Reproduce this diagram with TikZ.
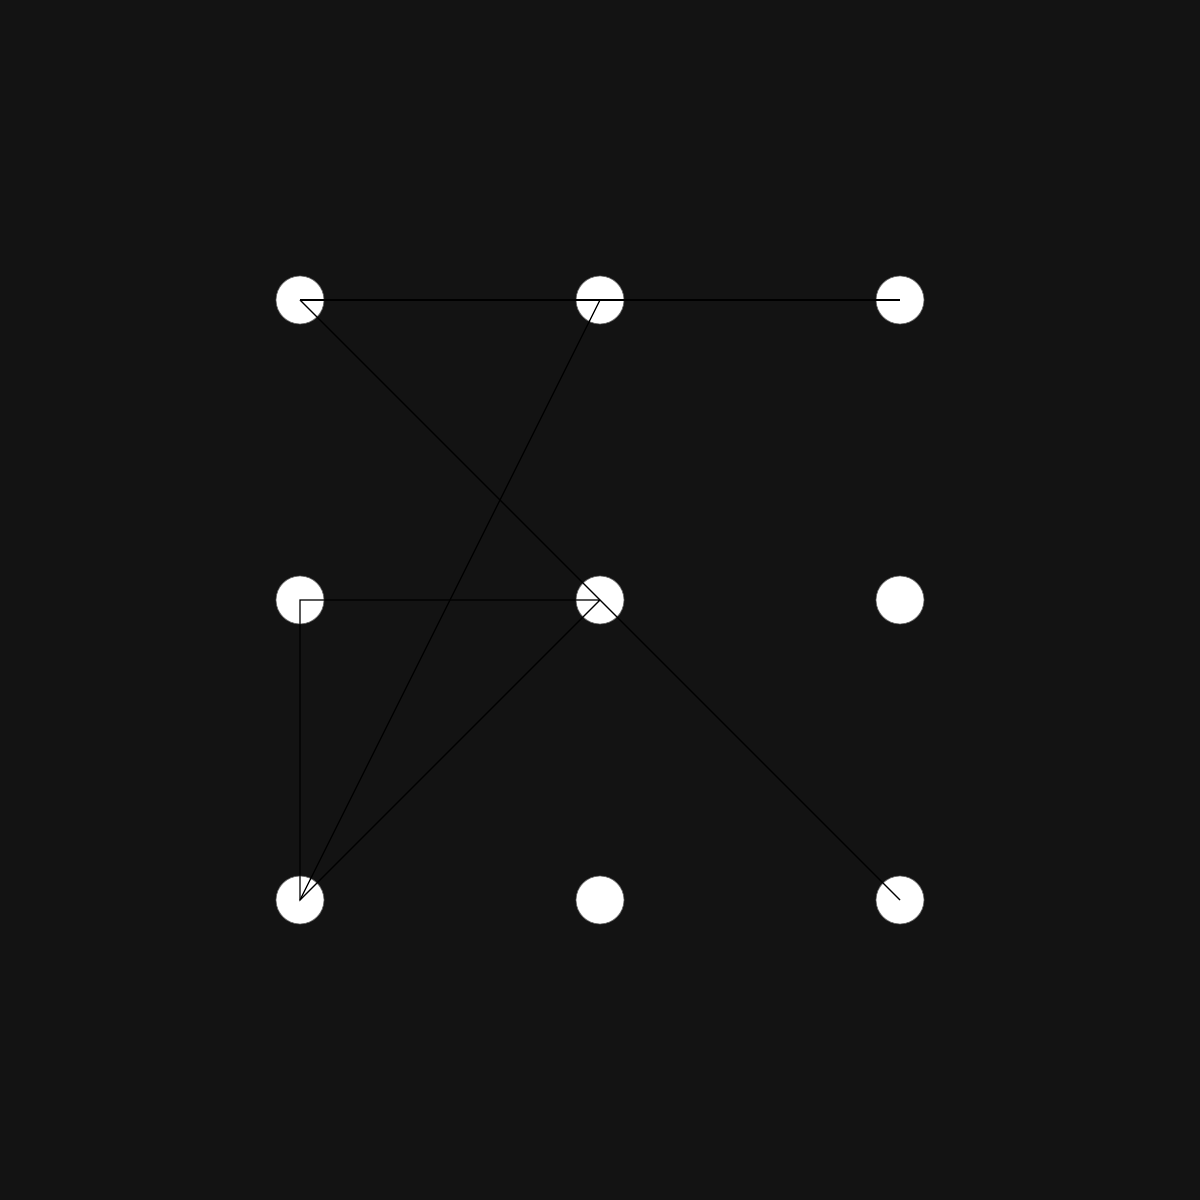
\documentclass[tikz,border=0pt]{standalone}
\begin{document}
\begin{tikzpicture}[
  dot/.style={circle,fill=white,draw=black!60,line width=0.2pt,minimum size=0.48cm,inner sep=0pt},
  link/.style={draw=black,line width=0.35pt}]
\fill[fill={rgb,255:red,19;green,19;blue,19}] (0,0) rectangle (12,12);
\useasboundingbox (0,0) rectangle (12,12);
\node[dot] (a1) at (3,9) {};
\node[dot] (a2) at (6,9) {};
\node[dot] (a3) at (9,9) {};
\node[dot] (b1) at (3,6) {};
\node[dot] (b2) at (6,6) {};
\node[dot] (b3) at (9,6) {};
\node[dot] (c1) at (3,3) {};
\node[dot] (c2) at (6,3) {};
\node[dot] (c3) at (9,3) {};
\draw[link] (a1.center) -- (a3.center);
\draw[link] (a1.center) -- (b2.center) -- (c3.center);
\draw[link] (a2.center) -- (c1.center);
\draw[link] (b2.center) -- (b1.center) -- (c1.center) -- (b2.center);
\end{tikzpicture}
\end{document}
